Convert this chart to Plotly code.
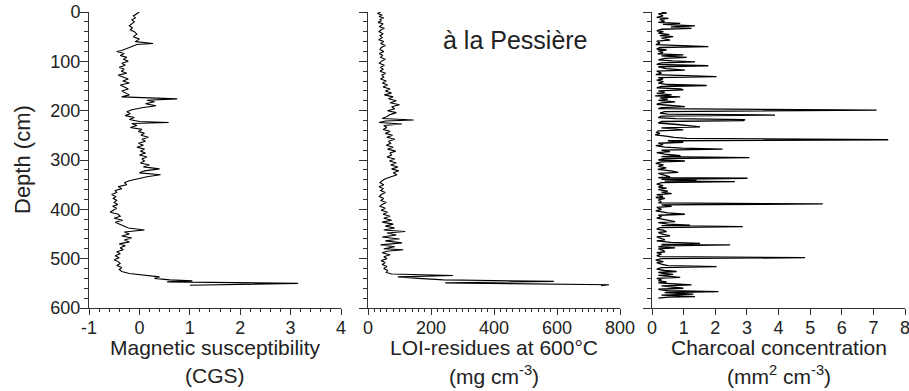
import plotly.graph_objects as go

# ---------------- data ----------------
mag_depth = [0, 4, 8, 12, 16, 20, 24, 28, 32, 36, 40, 45, 50, 55, 60, 64, 66, 70, 74, 78,
             80, 84, 88, 92, 96, 100, 104, 108, 112, 116, 120, 124, 128, 132, 136, 140, 144, 148, 152, 156,
             160, 164, 168, 172, 176, 179, 182, 186, 190, 194, 198, 202, 206, 210, 214, 218, 222, 224, 226, 230,
             234, 238, 242, 246, 250, 254, 258, 262, 266, 270, 274, 278, 282, 286, 290, 294, 298, 302, 306, 310,
             314, 318, 322, 326, 330, 334, 338, 342, 346, 350, 354, 358, 362, 366, 370, 374, 378, 382, 386, 390,
             394, 398, 402, 406, 410, 414, 418, 422, 426, 430, 434, 438, 442, 446, 450, 454, 458, 462, 466, 470,
             474, 478, 482, 486, 490, 494, 498, 502, 506, 510, 514, 518, 522, 526, 530, 534, 537, 540, 543, 545,
             547, 550, 554]
mag_value = [0.00, -0.05, -0.12, -0.08, -0.15, -0.10, -0.16, -0.20, -0.14, -0.18, -0.10, -0.05, -0.12, 0.00, -0.08, 0.27, -0.05, -0.15, -0.28, -0.35,
             -0.45, -0.30, -0.38, -0.25, -0.32, -0.22, -0.35, -0.28, -0.40, -0.30, -0.36, -0.25, -0.42, -0.30, -0.22, -0.33, -0.20, -0.38, -0.30, -0.22,
             -0.35, -0.28, -0.20, -0.35, 0.75, 0.15, 0.30, 0.12, 0.33, 0.05, -0.15, -0.25, -0.18, -0.28, -0.10, -0.20, 0.00, 0.58, -0.15, -0.05,
             -0.18, 0.05, -0.02, 0.10, 0.03, 0.18, 0.05, 0.12, -0.02, 0.08, -0.05, 0.10, 0.02, 0.12, 0.00, 0.15, 0.05, 0.10, 0.02, 0.20,
             0.08, 0.40, 0.10, 0.00, 0.42, 0.15, -0.05, -0.20, -0.30, -0.25, -0.42, -0.35, -0.48, -0.45, -0.55, -0.47, -0.52, -0.45, -0.50, -0.43,
             -0.53, -0.45, -0.52, -0.58, -0.42, -0.38, -0.50, -0.33, -0.48, -0.38, -0.28, -0.22, 0.10, -0.30, -0.20, -0.35, -0.15, -0.30, -0.20, -0.40,
             -0.28, -0.38, -0.32, -0.45, -0.38, -0.48, -0.40, -0.50, -0.42, -0.38, -0.45, -0.35, -0.40, -0.35, -0.20, 0.20, 0.40, 0.30, 0.60, 1.05,
             0.55, 3.15, 1.00]

loi_depth = [0, 3, 6, 9, 12, 15, 18, 21, 24, 27, 30, 33, 36, 40, 44, 48, 52, 56, 60, 64,
             68, 72, 76, 80, 84, 88, 92, 96, 100, 104, 108, 112, 116, 120, 124, 128, 132, 136, 140, 144,
             148, 152, 156, 160, 164, 168, 172, 176, 180, 184, 188, 192, 196, 200, 204, 208, 212, 216, 219, 221,
             224, 227, 230, 234, 238, 242, 246, 250, 254, 258, 262, 266, 270, 274, 278, 282, 286, 290, 294, 298,
             302, 306, 310, 314, 318, 322, 326, 330, 334, 338, 342, 346, 350, 354, 358, 362, 366, 370, 374, 378,
             382, 386, 390, 394, 398, 402, 406, 410, 414, 418, 422, 426, 430, 434, 438, 442, 445, 448, 452, 456,
             460, 464, 468, 472, 476, 480, 482, 485, 488, 492, 496, 500, 504, 508, 512, 516, 520, 524, 528, 531,
             534, 537, 540, 543, 546, 549, 553, 555]
loi_value = [40, 30, 45, 35, 50, 38, 42, 32, 48, 40, 36, 52, 42, 35, 48, 38, 45, 34, 50, 40,
             55, 42, 38, 50, 36, 46, 40, 55, 42, 36, 52, 40, 48, 38, 56, 44, 50, 40, 58, 46,
             62, 48, 70, 55, 75, 52, 80, 65, 90, 70, 100, 75, 85, 62, 90, 70, 60, 45, 145, 55,
             35, 108, 50, 60, 48, 70, 55, 78, 60, 85, 65, 72, 58, 80, 62, 88, 70, 75, 60, 85,
             68, 90, 72, 95, 75, 98, 80, 92, 70, 55, 45, 38, 50, 35, 48, 40, 55, 42, 36, 50,
             40, 58, 45, 38, 55, 42, 62, 48, 70, 50, 75, 45, 80, 55, 85, 50, 118, 60, 90, 45,
             100, 55, 108, 40, 85, 50, 112, 60, 45, 70, 50, 60, 42, 55, 45, 60, 50, 62, 58, 75,
             270, 95, 160, 240, 590, 245, 765, 740]

char_depth = [0, 2, 4, 8, 11, 13, 15, 19, 21, 23, 25, 28, 30, 33, 35, 38, 40, 43, 46, 48,
              50, 53, 57, 59, 63, 66, 70, 72, 75, 77, 79, 82, 85, 87, 89, 92, 94, 97, 99, 101,
              103, 106, 109, 111, 115, 118, 120, 124, 127, 131, 133, 136, 138, 141, 144, 147, 149, 151, 154, 156,
              158, 160, 163, 165, 168, 170, 172, 174, 177, 179, 182, 184, 187, 189, 192, 194, 196, 199, 200, 202,
              205, 207, 209, 211, 214, 216, 218, 220, 222, 225, 228, 230, 233, 235, 237, 239, 241, 244, 246, 249,
              252, 254, 256, 258, 259, 261, 264, 266, 269, 271, 274, 276, 278, 280, 283, 285, 288, 291, 293, 295,
              297, 300, 302, 304, 307, 310, 313, 316, 319, 322, 325, 327, 330, 334, 336, 337, 339, 341, 343, 344,
              346, 349, 352, 355, 357, 360, 363, 365, 368, 370, 374, 376, 378, 381, 385, 387, 388, 389, 391, 394,
              396, 400, 403, 407, 410, 412, 415, 418, 421, 425, 427, 430, 432, 433, 435, 437, 440, 442, 445, 447,
              450, 454, 456, 459, 462, 464, 467, 469, 471, 472, 474, 476, 478, 480, 483, 486, 488, 491, 494, 496,
              498, 500, 503, 506, 508, 511, 514, 516, 518, 521, 524, 526, 528, 530, 532, 534, 536, 538, 540, 543,
              545, 547, 549, 551, 553, 555, 557, 559, 560, 562, 565, 567, 569, 572, 574, 577, 578, 580]
char_value = [0.30, 0.46, 0.20, 0.35, 0.15, 0.52, 0.25, 0.40, 0.20, 0.89, 0.35, 1.36, 0.60, 1.25, 0.30, 0.15, 0.36, 0.20, 0.55, 0.25,
              0.67, 0.30, 0.57, 0.15, 0.25, 0.12, 1.78, 0.25, 0.15, 0.46, 0.20, 0.35, 0.18, 0.99, 0.30, 1.10, 0.40, 0.20, 0.65, 1.36,
              0.30, 0.15, 1.78, 0.20, 0.45, 1.04, 0.15, 0.30, 0.12, 2.04, 0.20, 0.35, 0.15, 0.36, 0.20, 0.50, 1.73, 0.30, 0.15, 0.90,
              0.99, 0.20, 0.40, 0.15, 0.62, 0.10, 0.89, 0.25, 0.50, 0.20, 0.73, 0.30, 0.15, 0.60, 1.04, 0.30, 0.20, 7.10, 4.30, 0.40,
              0.25, 0.50, 3.89, 0.30, 0.20, 0.75, 2.94, 2.90, 0.30, 0.20, 0.80, 1.20, 1.52, 0.30, 0.60, 0.99, 0.20, 0.15, 0.25, 0.10,
              0.50, 0.70, 1.10, 5.84, 7.47, 0.50, 0.99, 0.20, 0.35, 0.12, 0.40, 0.95, 2.23, 0.30, 0.57, 0.15, 0.40, 0.90, 0.30, 3.08,
              0.40, 0.20, 1.04, 0.30, 0.12, 0.36, 0.20, 0.45, 0.18, 0.60, 0.83, 0.20, 0.35, 0.57, 0.20, 3.02, 0.30, 1.41, 0.40, 2.62,
              0.30, 0.15, 0.35, 0.20, 0.46, 0.20, 0.50, 0.30, 0.62, 0.15, 0.35, 0.12, 0.41, 0.20, 0.30, 0.20, 2.47, 5.40, 0.30, 0.62,
              0.15, 0.30, 0.12, 0.50, 1.04, 0.20, 0.30, 0.15, 0.40, 0.73, 0.20, 0.50, 1.20, 0.30, 2.87, 0.25, 0.15, 0.35, 0.46, 0.20,
              0.30, 0.57, 0.15, 0.30, 0.41, 0.15, 0.60, 1.52, 0.30, 2.47, 0.35, 0.20, 0.73, 0.20, 0.35, 0.41, 0.15, 0.30, 0.15, 0.25,
              4.84, 0.30, 0.12, 0.36, 0.15, 0.30, 0.50, 2.04, 0.30, 0.15, 0.40, 0.78, 0.20, 0.35, 0.67, 0.20, 0.50, 0.89, 0.15, 0.30,
              0.20, 0.46, 0.20, 0.60, 1.25, 0.30, 0.60, 0.95, 0.99, 0.20, 0.50, 2.10, 0.40, 1.31, 0.30, 1.36, 0.50, 0.20]

depth_ticks = [0, 100, 200, 300, 400, 500, 600]
mag_ticks = [-1, 0, 1, 2, 3, 4]
mag_ticktext = ["-1", "0", "1", "2", "3", "4"]
loi_ticks = [0, 200, 400, 600, 800]
char_ticks = [0, 1, 2, 3, 4, 5, 6, 7, 8]

site_label = "à la Pessière"
depth_title = "Depth (cm)"
x_titles = [("Magnetic susceptibility", "(CGS)"),
            ("LOI-residues at 600°C", "(mg cm<sup>-3</sup>)"),
            ("Charcoal concentration", "(mm<sup>2</sup> cm<sup>-3</sup>)")]

# ---------------- figure ----------------
FONT = "Liberation Sans"
TXT = "#222222"
AX = "#333333"
W, H = 909, 391
# plot area in reference pixels: x 89..905, y 12..308
ML, MT, MR, MB = 89, 12, 909 - 905, 391 - 308
PW = W - ML - MR
PH = H - MT - MB


def px_x(p):
    return (p - ML) / PW


def px_y(p):
    return (H - MB - p) / PH


domains = [(px_x(89), px_x(341)), (px_x(368), px_x(620)), (px_x(652), px_x(905))]

fig = go.Figure()
fig.add_trace(go.Scatter(x=mag_value, y=mag_depth, mode="lines",
                         line=dict(color="black", width=1.1), xaxis="x", yaxis="y", showlegend=False))
fig.add_trace(go.Scatter(x=loi_value, y=loi_depth, mode="lines",
                         line=dict(color="black", width=1.1), xaxis="x2", yaxis="y2", showlegend=False))
fig.add_trace(go.Scatter(x=char_value, y=char_depth, mode="lines",
                         line=dict(color="black", width=1.3), xaxis="x3", yaxis="y3", showlegend=False))

tickfont = dict(family=FONT, size=18, color=TXT)


def yaxis_cfg(anchor, labels):
    return dict(range=[600, 0], tickmode="array", tickvals=depth_ticks,
                ticks="outside", ticklen=8, tickwidth=1, tickcolor=AX,
                minor=dict(dtick=20, tick0=0, ticks="outside", ticklen=4, tickwidth=1, tickcolor=AX),
                showline=True, linecolor=AX, linewidth=1, showgrid=False, zeroline=False,
                showticklabels=labels, tickfont=tickfont, anchor=anchor, automargin=False,
                ticklabeloverflow="allow", ticklabelstandoff=-4)


def xaxis_cfg(dom, rng, ticks, text, minor_dtick, anchor):
    cfg = dict(domain=list(dom), range=rng, tickmode="array", tickvals=ticks,
               ticks="outside", ticklen=6, tickwidth=1, tickcolor=AX,
               showline=True, linecolor=AX, linewidth=1, showgrid=False, zeroline=False,
               tickfont=tickfont, anchor=anchor, automargin=False, ticklabeloverflow="allow",
               ticklabelstandoff=-3)
    if text is not None:
        cfg["ticktext"] = text
    if minor_dtick:
        cfg["minor"] = dict(dtick=minor_dtick, tick0=rng[0], ticks="outside", ticklen=3,
                            tickwidth=1, tickcolor=AX)
    return cfg


fig.update_layout(
    width=W, height=H,
    margin=dict(l=ML, r=MR, t=MT, b=MB),
    paper_bgcolor="white", plot_bgcolor="white",
    template="none",
    xaxis=xaxis_cfg(domains[0], [-1, 4], mag_ticks, mag_ticktext, 0.2, "y"),
    xaxis2=xaxis_cfg(domains[1], [0, 800], loi_ticks, None, 20, "y2"),
    xaxis3=xaxis_cfg(domains[2], [0, 8], char_ticks, None, None, "y3"),
    yaxis=yaxis_cfg("x", True),
    yaxis2=yaxis_cfg("x2", False),
    yaxis3=yaxis_cfg("x3", False),
    showlegend=False,
)

annos = []
annos.append(dict(text=depth_title, x=px_x(22), y=px_y(160), xref="paper", yref="paper",
                  textangle=-90, showarrow=False, xanchor="center", yanchor="middle",
                  font=dict(family=FONT, size=22, color=TXT)))
annos.append(dict(text=site_label, x=px_x(515), y=px_y(40), xref="paper", yref="paper",
                  showarrow=False, xanchor="center", yanchor="middle",
                  font=dict(family=FONT, size=25, color=TXT)))
for (l1, l2), dom in zip(x_titles, domains):
    cx = (dom[0] + dom[1]) / 2
    annos.append(dict(text=l1, x=cx, y=px_y(347), xref="paper", yref="paper",
                      showarrow=False, xanchor="center", yanchor="middle",
                      font=dict(family=FONT, size=21, color=TXT)))
    annos.append(dict(text=l2, x=cx, y=px_y(375), xref="paper", yref="paper",
                      showarrow=False, xanchor="center", yanchor="middle",
                      font=dict(family=FONT, size=21, color=TXT)))
fig.update_layout(annotations=annos)

# remove the default 8 px page margin so the figure fills the window exactly
fig.write_html("out.html", config={"displayModeBar": False},
               post_script="document.body.style.margin='0';")
